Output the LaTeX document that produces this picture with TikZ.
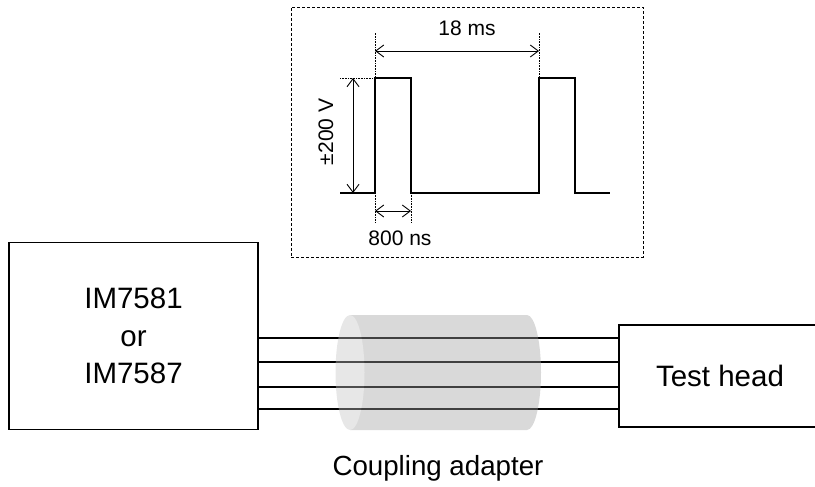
\documentclass[tikz,border=0pt]{standalone}
\usepackage{fontspec}
\setmainfont{Liberation Sans}
\usepackage{tikz}
\usetikzlibrary{arrows.meta,positioning}

\begin{document}
\begin{tikzpicture}[
    x=1pt, y=-1pt,
    box/.style={draw, line width=1.2pt, minimum width=249pt, minimum height=187pt, align=center, inner sep=0pt},
    bigtext/.style={font=\fontsize{29.5}{37.5}\selectfont},
    smalltext/.style={font=\fontsize{21}{24}\selectfont},
    wire/.style={line width=1.2pt},
    wave/.style={line width=1.2pt},
    guide/.style={densely dotted, line width=0.6pt},
    dimarrow/.style={{Straight Barb[length=8pt,width=12pt]}-{Straight Barb[length=8pt,width=12pt]}, line width=0.9pt},
    frame/.style={draw, dashed, dash pattern=on 3pt off 2pt, line width=0.8pt, minimum width=352pt, minimum height=250pt, inner sep=0pt}
]
\useasboundingbox (0,0) rectangle (815,487);

% --- pulse inset ---
\node[frame] (inset) at (467,132) {};

\coordinate (base0) at (340,193);
\coordinate (p1a) at (375,193);
\coordinate (p1b) at (375,78);
\coordinate (p1c) at (411,78);
\coordinate (p1d) at (411,193);
\coordinate (p2a) at (539,193);
\coordinate (p2b) at (539,78);
\coordinate (p2c) at (575,78);
\coordinate (p2d) at (575,193);
\coordinate (base1) at (610,193);
\draw[wave] (base0) -- (p1a) -- (p1b) -- (p1c) -- (p1d) -- (p2a) -- (p2b) -- (p2c) -- (p2d) -- (base1);

% guides for the dimensions
\coordinate (g1top) at (375,33);
\coordinate (g2top) at (539,33);
\coordinate (g1bot) at (375,223);
\coordinate (g2bot) at (411,223);
\coordinate (vleft) at (340,78);
\draw[guide] (p1b) -- (g1top);
\draw[guide] (p2b) -- (g2top);
\draw[guide] (p1a) -- (g1bot);
\draw[guide] (p1d) -- (g2bot);
\draw[guide] (vleft) -- (p1b);

% period
\draw[dimarrow] (375,51) coordinate (t0) -- (539,51) coordinate (t1);
\node[smalltext] (period) at (467,28) {18 ms};
% amplitude
\draw[dimarrow] (353,78) coordinate (v0) -- (353,193) coordinate (v1);
\node[smalltext, rotate=90] (amp) at (326,132) {\textpm200 V};
% width
\draw[dimarrow] (375,211) coordinate (w0) -- (411,211) coordinate (w1);
\node[smalltext] (width) at (400,238) {800 ns};

% --- instrument and test head ---
\node[box, bigtext] (im) at (133.5,336) {IM7581\\or\\IM7587};
% test head runs off the right edge
\node[box, minimum width=215pt, minimum height=102pt,
      label={[bigtext, xshift=-6.5pt]center:Test head}] (head) at (726.5,376) {};

% wires
\foreach \i/\y in {1/338, 2/362, 3/387, 4/409} {
    \coordinate (wl\i) at (258,\y);
    \coordinate (wr\i) at (619,\y);
    \draw[wire] (wl\i) -- (wr\i);
}

% --- coupling adapter (see-through cylinder) ---
\begin{scope}[transparency group, opacity=0.4]
    \fill[black!37] (350,315) -- (527,315) arc[start angle=-90, end angle=90, x radius=14, y radius=57.5] -- (350,430) -- cycle;
    \fill[black!23] (350,372.5) ellipse[x radius=14.5, y radius=57.5];
\end{scope}
\node[font=\fontsize{27.7}{32}\selectfont] (adapter) at (438,468) {Coupling adapter};

\end{tikzpicture}
\end{document}
